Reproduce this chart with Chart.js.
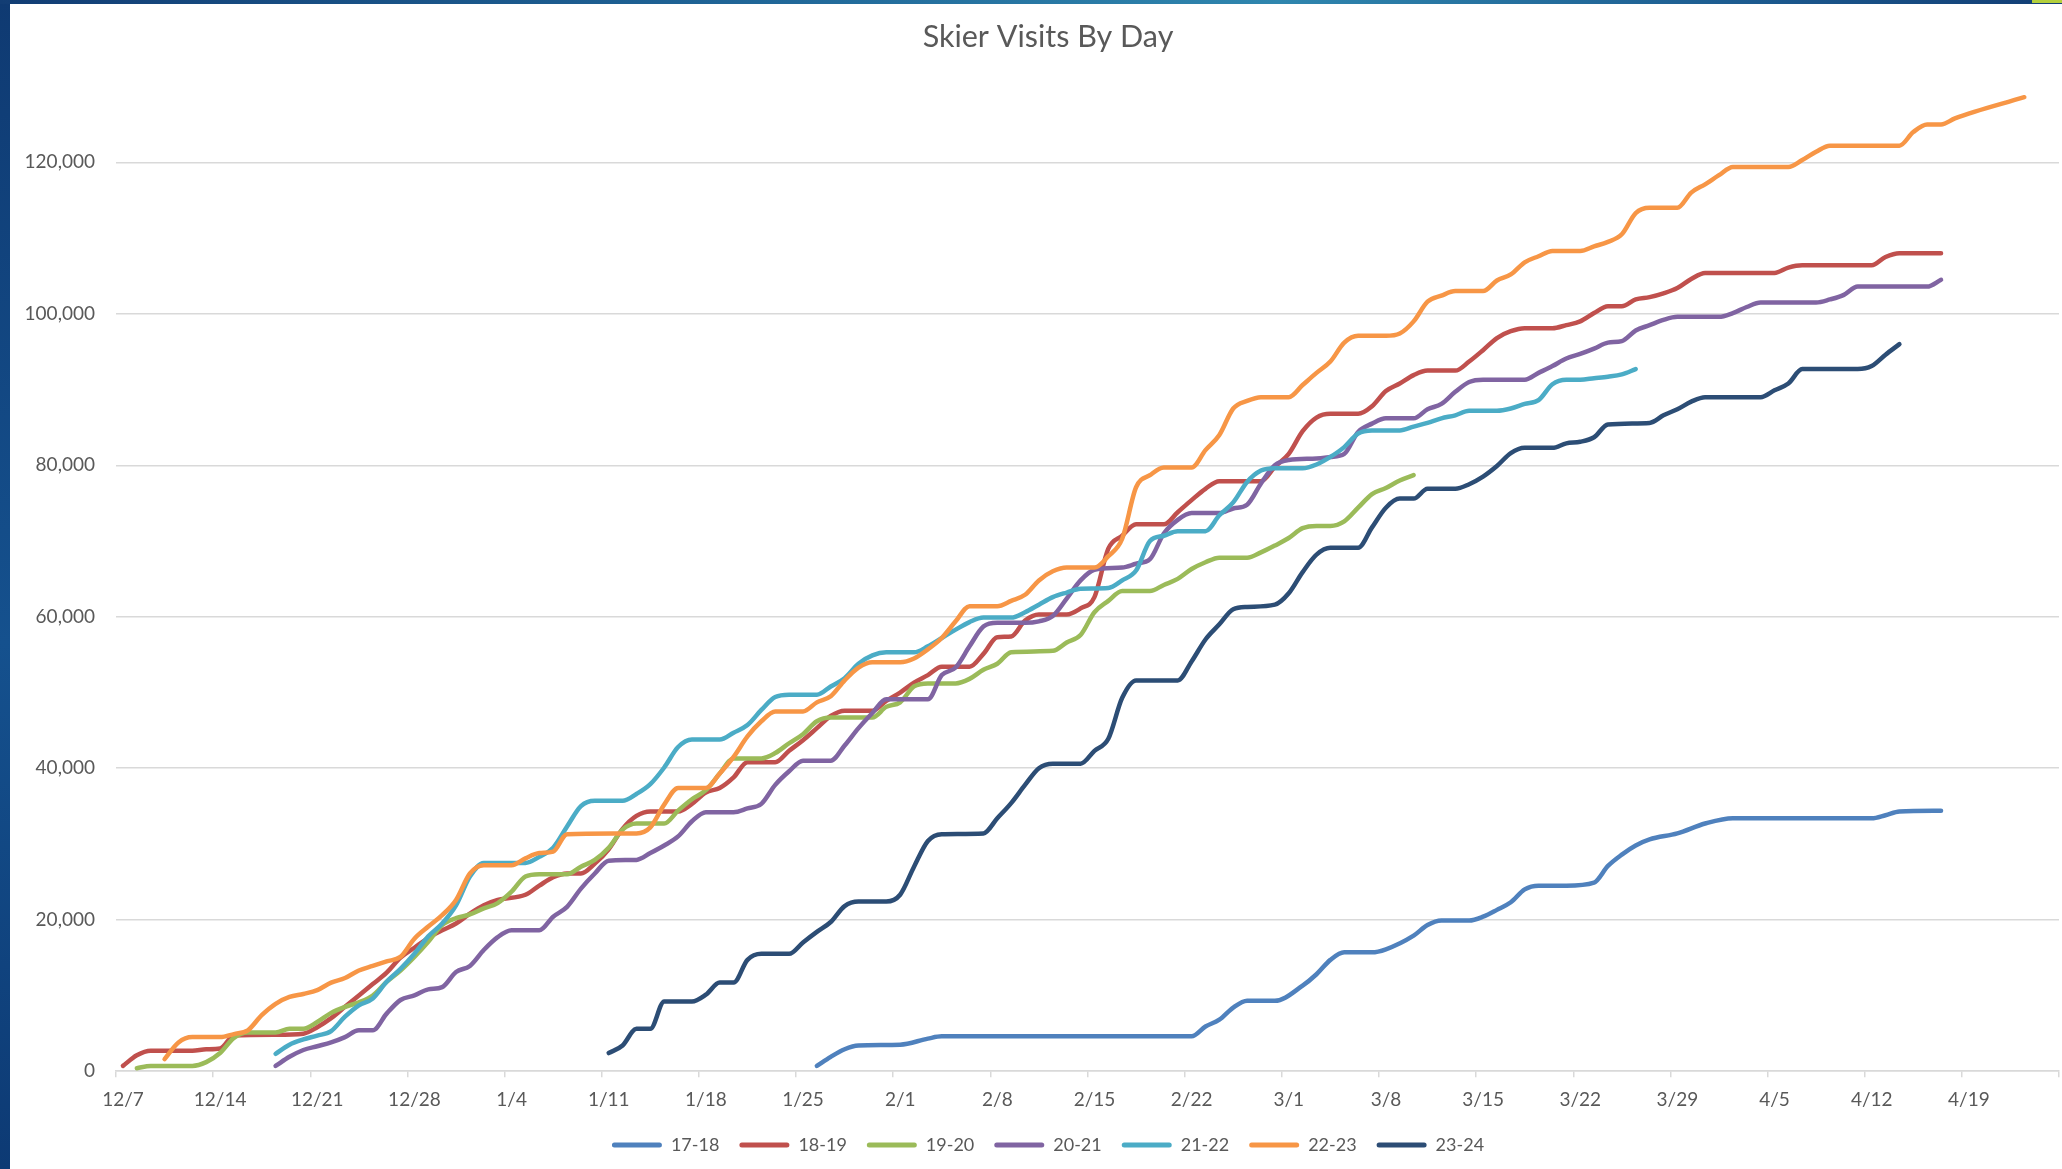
<!DOCTYPE html>
<html>
<head>
<meta charset="utf-8">
<title>Skier Visits By Day</title>
<script src="https://cdn.jsdelivr.net/npm/chart.js@4.4.1/dist/chart.umd.min.js"></script>
<style>
  html, body { margin: 0; padding: 0; width: 2062px; height: 1169px; overflow: hidden; }
  body { position: relative; background: linear-gradient(180deg, #0f3a72 0%, #15518e 55%, #0d3a74 100%); }
  #topbar { position: absolute; left: 0; top: 0; width: 2062px; height: 4px;
    background: linear-gradient(90deg, #123d74 0%, #1f6496 35%, #2f86ae 62%, #1c5a8f 85%, #123d74 100%); }
  #accent { position: absolute; right: 0; top: 0; width: 30px; height: 3px; background: #b3cf3c; z-index: 2; }
  /* the chart object runs a little past the right edge of the slide shot */
  #card { position: absolute; left: 10px; top: 4px; width: 2060px; height: 1165px; background: #fff; }
</style>
</head>
<body>
<div id="topbar"></div>
<div id="accent"></div>
<div id="card"><canvas id="skierChart"></canvas></div>
<script>
// x = day of season, day 0 = Dec 7 (one point per day on the date axis)
const tickLabels = ['12/7', '12/14', '12/21', '12/28', '1/4', '1/11', '1/18', '1/25', '2/1', '2/8',
  '2/15', '2/22', '3/1', '3/8', '3/15', '3/22', '3/29', '4/5', '4/12', '4/19'];
const yTicks = [0, 20000, 40000, 60000, 80000, 100000, 120000];
const seasons = ['17-18', '18-19', '19-20', '20-21', '21-22', '22-23', '23-24'];

// [day, cumulative visits]
const visits1718 = [[50,700],[51,1900],[52,2900],[53,3400],[56,3500],[58,4300],[59,4600],[77,4600],[78,5900],
  [79,6800],[80,8400],[81,9300],[83,9300],[85,11300],[86,12800],[87,14700],[88,15700],[90,15700],[91,16100],
  [93,17900],[94,19300],[95,19900],[97,19900],[98,20400],[99,21300],[100,22300],[101,24000],[102,24500],
  [104,24500],[106,24900],[107,27100],[108,28600],[109,29800],[110,30600],[112,31400],[114,32700],[116,33400],
  [126,33400],[127,33800],[128,34300],[131,34400]];

const visits1819 = [[0,700],[1,2100],[2,2700],[5,2700],[6,2900],[7,3000],[8,4700],[11,4800],[13,4950],[14,5800],
  [15,7000],[16,8500],[17,10000],[18,11500],[19,13000],[20,15000],[21,16300],[22,17600],[23,18600],[24,19500],
  [25,20800],[26,21900],[27,22600],[29,23300],[30,24500],[31,25600],[32,26100],[33,26100],[34,27400],[35,29300],
  [36,32000],[37,33700],[38,34300],[40,34300],[41,35300],[42,36800],[43,37400],[44,38800],[45,40800],[47,40800],
  [48,42300],[49,43700],[50,45300],[51,46900],[52,47600],[54,47600],[55,48900],[56,50000],[57,51300],[58,52300],
  [59,53400],[61,53400],[62,55100],[63,57300],[64,57400],[65,59500],[66,60300],[68,60300],[69,61100],[70,62600],
  [71,69000],[72,70700],[73,72200],[75,72200],[76,73800],[77,75400],[78,76900],[79,77900],[82,77900],[83,79800],
  [84,81500],[85,84500],[86,86300],[87,86800],[89,86800],[90,87800],[91,89800],[92,90800],[93,91900],[94,92500],
  [96,92500],[97,93700],[98,95200],[99,96800],[100,97700],[101,98100],[103,98100],[104,98500],[105,99000],
  [106,100100],[107,101000],[108,101000],[109,101900],[110,102200],[111,102700],[112,103400],[113,104600],
  [114,105400],[119,105400],[120,106100],[121,106400],[126,106400],[127,107500],[128,108000],[131,108000]];

const visits1920 = [[1,400],[2,700],[5,700],[6,1200],[7,2400],[8,4400],[9,5100],[11,5100],[12,5600],[13,5600],
  [14,6500],[15,7700],[16,8500],[17,9100],[18,10000],[19,11800],[20,13300],[21,15100],[22,17100],[23,19300],
  [24,20200],[25,20700],[26,21500],[27,22200],[28,23700],[29,25700],[30,26000],[32,26000],[33,27000],[34,27900],
  [35,29500],[36,31900],[37,32700],[39,32700],[40,34400],[41,35900],[42,37100],[43,39300],[44,41300],[46,41300],
  [47,42000],[48,43300],[49,44500],[50,46200],[51,46700],[54,46700],[55,48100],[56,48700],[57,50800],[58,51200],
  [60,51200],[61,51800],[62,53000],[63,53800],[64,55300],[67,55500],[68,56600],[69,57600],[70,60600],[71,62100],
  [72,63400],[74,63400],[75,64200],[76,65000],[77,66300],[78,67200],[79,67800],[81,67800],[82,68500],[83,69400],
  [84,70400],[85,71700],[86,72000],[87,72000],[88,72600],[89,74400],[90,76200],[91,77000],[92,78000],[93,78700]];

const visits2021 = [[11,700],[12,1900],[13,2800],[14,3300],[15,3800],[16,4500],[17,5400],[18,5400],[19,7600],
  [20,9400],[21,10000],[22,10800],[23,11100],[24,13100],[25,13900],[26,16000],[27,17700],[28,18600],[30,18600],
  [31,20400],[32,21700],[33,24100],[34,26100],[35,27800],[37,27900],[38,28800],[39,29800],[40,31000],[41,33000],
  [42,34200],[44,34200],[45,34700],[46,35300],[47,37800],[48,39600],[49,41000],[51,41000],[52,43000],[53,45300],
  [54,47300],[55,49100],[58,49100],[59,52300],[60,53300],[61,56100],[62,58700],[63,59200],[65,59200],[66,59400],
  [67,60100],[68,62400],[69,64800],[70,66200],[72,66500],[73,67000],[74,67600],[75,71000],[76,72800],[77,73700],
  [79,73700],[80,74300],[81,74800],[82,77600],[83,80000],[84,80700],[86,80900],[87,81100],[88,81500],[89,84400],
  [90,85500],[91,86200],[93,86200],[94,87400],[95,88100],[96,89700],[97,91000],[98,91300],[101,91300],[102,92200],
  [103,93100],[104,94100],[105,94700],[106,95400],[107,96200],[108,96400],[109,97800],[110,98500],[111,99200],
  [112,99600],[115,99600],[116,100100],[117,100900],[118,101500],[122,101500],[123,101900],[124,102500],
  [125,103600],[130,103600],[131,104500]];

const visits2122 = [[11,2300],[12,3500],[13,4200],[14,4700],[15,5300],[16,7200],[17,8700],[18,9600],[19,11800],
  [20,13500],[21,15500],[22,17800],[23,19500],[24,21900],[25,25700],[26,27500],[29,27500],[30,28300],[31,29500],
  [32,32300],[33,35000],[34,35700],[36,35700],[37,36600],[38,37900],[39,40100],[40,42800],[41,43800],[43,43800],
  [44,44700],[45,45700],[46,47700],[47,49400],[48,49700],[50,49700],[51,50800],[52,51900],[53,53800],[54,54900],
  [55,55300],[57,55300],[58,56100],[59,57200],[60,58300],[61,59300],[62,59900],[64,59900],[65,60600],[66,61600],
  [67,62600],[68,63200],[69,63700],[71,63800],[72,64800],[73,66100],[74,70000],[75,70700],[76,71300],[78,71300],
  [79,73400],[80,75100],[81,77800],[82,79300],[83,79600],[85,79600],[86,80100],[87,81100],[88,82400],[89,84200],
  [90,84600],[92,84600],[93,85100],[94,85600],[95,86200],[96,86600],[97,87200],[99,87200],[100,87500],[101,88100],
  [102,88600],[103,90700],[104,91300],[105,91300],[106,91500],[107,91700],[108,92000],[109,92700]];

const visits2223 = [[3,1600],[4,3800],[5,4500],[7,4500],[8,4900],[9,5400],[10,7400],[11,8900],[12,9800],[13,10200],
  [14,10700],[15,11700],[16,12300],[17,13300],[18,13900],[19,14500],[20,15100],[21,17500],[22,19100],[23,20600],
  [24,22600],[25,26100],[26,27200],[28,27200],[29,28100],[30,28800],[31,29000],[32,31300],[37,31400],[38,32200],
  [39,35200],[40,37400],[42,37400],[43,39300],[44,41500],[45,44200],[46,46200],[47,47500],[49,47500],[50,48700],
  [51,49500],[52,51600],[53,53300],[54,54000],[56,54000],[57,54500],[58,55700],[59,57200],[60,59400],[61,61400],
  [63,61400],[64,62100],[65,62900],[66,64800],[67,66000],[68,66500],[70,66500],[71,68000],[72,70300],[73,77100],
  [74,78700],[75,79700],[77,79700],[78,82000],[79,84000],[80,87500],[81,88500],[82,89000],[84,89000],[85,90600],
  [86,92200],[87,93700],[88,96200],[89,97100],[91,97100],[92,97400],[93,99000],[94,101600],[95,102400],[96,103000],
  [98,103000],[99,104400],[100,105200],[101,106800],[102,107600],[103,108300],[105,108300],[106,108900],
  [107,109500],[108,110500],[109,113300],[110,114000],[112,114000],[113,116000],[114,117100],[115,118300],
  [116,119400],[120,119400],[121,120300],[122,121400],[123,122200],[128,122200],[129,124000],[130,125000],
  [131,125000],[132,125800],[137,128600]];

const visits2324 = [[35,2400],[36,3400],[37,5600],[38,5600],[39,9200],[41,9200],[42,10100],[43,11700],[44,11700],
  [45,14700],[46,15500],[48,15500],[49,17000],[50,18400],[51,19700],[52,21800],[53,22400],[55,22400],[56,23300],
  [57,27000],[58,30400],[59,31300],[62,31400],[63,33400],[64,35400],[65,37800],[66,40000],[67,40600],[69,40600],
  [70,42300],[71,43900],[72,49300],[73,51600],[76,51600],[77,54100],[78,57000],[79,59000],[80,61000],[81,61300],
  [83,61600],[84,63100],[85,65900],[86,68200],[87,69100],[89,69100],[90,71800],[91,74400],[92,75600],[93,75600],
  [94,76900],[96,76900],[97,77500],[98,78500],[99,79900],[100,81600],[101,82300],[103,82300],[104,82900],
  [105,83100],[106,83700],[107,85400],[110,85600],[111,86600],[112,87400],[113,88400],[114,89000],[118,89000],
  [119,89900],[120,90800],[121,92700],[125,92700],[126,93100],[127,94600],[128,96000]];

const seriesData = [visits1718, visits1819, visits1920, visits2021, visits2122, visits2223, visits2324];
const seriesColors = ['#4F81BD', '#C0504D', '#9BBB59', '#8064A2', '#4BACC6', '#F79646', '#2C4D75'];

const textColor = '#595959';
const gridColor = '#d9d9d9';
Chart.defaults.font.family = "Lato, 'Open Sans', sans-serif";
Chart.defaults.color = textColor;

const datasets = seasons.map((name, i) => ({
  label: name,
  data: seriesData[i].map(([d, v]) => ({ x: d, y: v })),
  borderColor: seriesColors[i],
  backgroundColor: seriesColors[i],
  borderWidth: 4.5,
  borderCapStyle: 'round',
  borderJoinStyle: 'round',
  pointRadius: 0,
  cubicInterpolationMode: 'monotone',
  order: seasons.length - i // later seasons drawn on top, like Excel
}));

// the original centres its title and legend a little right of the canvas middle
const centreShift = {
  id: 'centreShift',
  afterLayout(chart) {
    [chart.titleBlock, chart.legend].forEach(box => {
      if (box) { box.left += 8; box.right += 8; }
    });
  }
};

const ctx = document.getElementById('skierChart').getContext('2d');
new Chart(ctx, {
  type: 'line',
  data: { datasets },
  plugins: [centreShift],
  options: {
    responsive: true,
    maintainAspectRatio: false,
    animation: false,
    layout: { padding: { left: 0, right: 0, top: 0, bottom: 5 } },
    plugins: {
      title: {
        display: true,
        text: 'Skier Visits By Day',
        color: textColor,
        font: { size: 30.5, weight: 'normal' },
        padding: { top: 15, bottom: 31 }
      },
      legend: {
        position: 'bottom',
        labels: {
          color: textColor,
          font: { size: 18 },
          boxWidth: 50,
          boxHeight: 5,
          padding: 20,
          useBorderRadius: true,
          borderRadius: 2.5,
          sort: (a, b) => a.datasetIndex - b.datasetIndex,
          generateLabels: (chart) =>
            Chart.defaults.plugins.legend.labels.generateLabels(chart).map(item => ({ ...item, lineWidth: 0 }))
        }
      },
      tooltip: { enabled: false }
    },
    scales: {
      x: {
        type: 'linear',
        min: -0.5,
        max: tickLabels.length * 7 - 0.5,
        afterBuildTicks: (scale) => {
          const ticks = [];
          for (let k = 0; k <= tickLabels.length; k++) ticks.push({ value: k * 7 - 0.5 });
          scale.ticks = ticks;
        },
        afterFit: (scale) => { scale.height -= 6; },
        ticks: {
          callback: (value, index) => tickLabels[index] || '',
          font: { size: 19 },
          color: textColor,
          maxRotation: 0,
          autoSkip: false,
          labelOffset: 7,
          padding: 11
        },
        grid: { drawOnChartArea: false, color: gridColor, lineWidth: 1.5, tickLength: 6 },
        border: { color: gridColor, width: 1.5 }
      },
      y: {
        min: 0,
        max: 130000,
        afterBuildTicks: (scale) => { scale.ticks = yTicks.map(v => ({ value: v })); },
        afterFit: (scale) => { scale.width = 106; },
        ticks: {
          callback: (value) => value.toLocaleString('en-US'),
          font: { size: 19 },
          color: textColor,
          padding: 21
        },
        grid: { color: gridColor, lineWidth: 1.5, drawTicks: false },
        border: { display: false }
      }
    }
  }
});
</script>
</body>
</html>
